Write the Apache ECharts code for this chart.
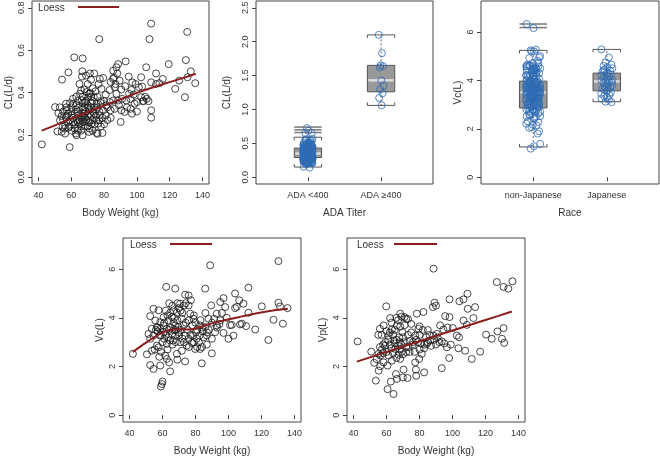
<!DOCTYPE html>
<html>
<head>
<meta charset="utf-8">
<script src="https://cdn.jsdelivr.net/npm/echarts@6/dist/echarts.min.js"></script>
<style>
  html, body { margin: 0; padding: 0; background: #fff; }
  #chart { width: 660px; height: 457px; }
</style>
</head>
<body>
<div id="chart"></div>
<script>
// ---- data ----
// CL (L/d) vs body weight (kg)
var clPoints = [
  [42,0.155],[59,0.142],[108.7,0.725],[107.7,0.652],[77,0.652],[130.7,0.686],[61.8,0.566],[66.9,0.561],
  [58.2,0.495],[54.3,0.461],[66.7,0.5],[71.3,0.49],[74,0.49],[66.5,0.475],[93.1,0.547],[88.5,0.534],
  [87.5,0.519],[85.5,0.503],[105.7,0.519],[111.7,0.49],[119.4,0.534],[115.8,0.464],[111.7,0.44],[108.7,0.448],
  [102.6,0.472],[99.2,0.44],[97.2,0.448],[95,0.475],[92.9,0.43],[95.2,0.394],[96.6,0.412],[93.5,0.362],
  [90.5,0.414],[89.5,0.456],[86.5,0.425],[87.5,0.394],[88.5,0.362],[90.5,0.316],[92.5,0.308],[90.1,0.261],
  [96.2,0.323],[98.6,0.347],[100.2,0.355],[102.6,0.378],[103.6,0.359],[101.2,0.425],[103.2,0.428],[107.1,0.359],
  [108.7,0.316],[108.7,0.281],[113.7,0.444],[123.4,0.417],[125.8,0.456],[129.3,0.378],[130.9,0.472],[129.9,0.553],
  [132.9,0.5],[135.6,0.444],
  [77.4,0.464],[79.4,0.469],[76.6,0.44],[74.7,0.406],[78.4,0.417],[81,0.39],[83.4,0.412],[85.5,0.464],
  [83.4,0.355],[81.4,0.339],[79.4,0.316],[77.4,0.292],[75.4,0.269],[76.4,0.253],[74.3,0.25],[75.4,0.209],
  [79,0.209],[81,0.292],[84,0.316],[86.5,0.323],[85.5,0.362],[87,0.44],[84,0.45],[86,0.47],[88,0.49],
  [82,0.33],[80,0.36],[78,0.35],[76,0.38],[73,0.42],[72,0.46],[69,0.48],[70,0.44],[68,0.415],[71,0.395],
  [73,0.36],[75,0.32],[77,0.31],[79,0.28],[80,0.25],[82,0.27],[84,0.28],[72,0.29],[73,0.27],[71,0.23],
  [73,0.22],[76,0.205],[78,0.36],[94,0.33],[96,0.37],[98,0.39],[91,0.37],[89,0.34],[97,0.3],[100,0.31],
  [104,0.36],[105,0.38],[106,0.37],
  [50.1,0.331],[52.1,0.303],[54.1,0.289],[53.1,0.269],[51.5,0.216],[54.1,0.214],[56.2,0.206],[54.7,0.238],
  [56.2,0.245],[56.8,0.281],[57.2,0.316],[56.8,0.347],[59.2,0.35],[61.2,0.347],[62.8,0.32],[60.2,0.292],
  [59.2,0.269],[58.2,0.234],[60.2,0.219],[62.8,0.206],[63.8,0.23],[65.3,0.253],[63.2,0.269],[66.3,0.277],
  [68.3,0.281],[66.9,0.3],[66.3,0.363],[65.3,0.394],[68.3,0.355],[70.3,0.328],[70.3,0.378],[71.7,0.397],
  [69.3,0.402],[73.7,0.378],[75.4,0.347],[71.3,0.3],[70.3,0.266],[72.3,0.253],[68.3,0.241],[66.9,0.198],
  [70.9,0.214],[63.2,0.198],
  [55,0.27],[57,0.29],[58,0.26],[60,0.31],[61,0.28],[62,0.25],[62,0.3],[63,0.34],[64,0.29],[64,0.31],
  [65,0.27],[65,0.33],[66,0.24],[67,0.26],[67,0.32],[67,0.35],[68,0.3],[68,0.33],[69,0.27],[69,0.31],
  [69,0.36],[70,0.29],[70,0.34],[71,0.32],[71,0.26],[72,0.33],[72,0.38],[74,0.33],[74,0.3],[61,0.37],
  [63,0.38],[64,0.36],[66,0.41],[65,0.44],[60,0.33],[58,0.3],[57,0.33],[55,0.31],[53,0.33],[62,0.23],
  [64,0.22],[66,0.22],[67,0.29],[59,0.24],[61,0.26],[56,0.23],[64,0.26],[68,0.26],[70,0.24],[67,0.38],
  [75,0.29],[76,0.33],[77,0.27],[78,0.24],[73,0.31],[72,0.35]
];
var clLoess = [[42,0.22],[50,0.245],[60,0.277],[70,0.308],[80,0.338],[90,0.368],[100,0.398],[110,0.425],[120,0.449],[128,0.468],[136,0.488]];

// Vc (L) vs body weight (kg)
var vcPoints = [
  [42,2.52],[50.5,2.5],[52.5,2.06],[54.5,1.9],[58.6,2.04],[59.6,1.28],[60,1.38],[59,1.18],[64.6,1.8],
  [62.6,2.31],[61.6,2.45],[64,2.17],[69,2.28],[73.7,2.21],[83.8,2.13],[89.9,2.54],[88.9,6.16],[130.3,6.33],
  [62.2,5.27],[67.7,5.2],[73.7,4.95],[75.8,4.92],[85.9,5.2],[104,5.0],[112.1,5.24],[97,4.81],[95,4.65],
  [98,4.44],[104,4.4],[106.5,4.72],[109.1,4.58],[120.2,4.47],[130.3,4.62],[131.3,4.47],[135.8,4.4],
  [127.3,3.92],[133,3.76],[124.2,3.09],[116.2,3.52],[112.1,4.21],[108.1,3.76],[107,3.73],[110.7,3.66],
  [102,3.71],[97,3.38],[100,3.14],[103,3.27],[94.5,3.74],[92.9,4.17],[91.3,3.96],[92.9,3.69],[89.5,4.51],
  [87.9,3.96],[86.9,3.27],[86.9,2.9],[82.8,2.72],[79.8,2.72],[80.2,3.41],[82.8,3.69],[78.8,3.96],[76.8,4.17],
  [75.8,4.51],[77.2,4.72],[70.7,4.58],[68.7,4.21],[66.7,4.31],[64.6,4.21],[63,4.1],[60.6,4.02],[57.6,4.31],
  [54.5,4.37],[52.5,4.07],[55.6,3.89],[53.5,3.55],[56.6,3.62],[51.5,3.34],[58.6,3.27],[56.6,2.86],[55.2,2.7],
  [57.6,2.79],[53.5,2.65],[61,3.14],[62.6,2.93],[64.6,3.07],[65.7,3.34],[67.7,3.69],[69.7,3.62],[71.7,3.96],
  [72.7,3.69],[73.7,3.27],[70.7,3.0],[68.7,2.52],[71.7,2.65],[74.7,2.86],[77.8,2.97],[75.8,3.14],[78.4,3.27],
  [80.8,3.14],[82.4,3.27],[84.4,3.44],[85.9,3.62],[89.9,3.14],[91.9,3.41],[58.6,3.82],[60.6,3.69],[62.6,3.55],
  [63.6,3.89],[65.7,4.03],[66.7,3.82],[69.7,3.41],[67.7,3.27],[66.3,3.07],[63.6,3.2],[60.6,3.41],[58.6,3.55],
  [57,3.44],[54.5,3.27],[52.5,3.14],
  [56,3.5],[57,3.6],[59,3.3],[61,3.8],[62,4.3],[64,4.6],[65,3.6],[66,4.5],[67,4.0],[68,3.5],[69,3.9],
  [70,4.4],[70,3.3],[71,3.5],[72,4.2],[73,3.0],[74,3.8],[74,4.6],[75,3.5],[76,3.9],[77,3.3],[78,3.7],
  [79,4.1],[80,3.8],[81,3.5],[82,3.0],[83,3.9],[84,3.6],[85,3.2],[86,4.2],[88,3.5],[90,3.8],[93,3.6],
  [95,3.9],[96,4.2],[99,4.0],[101,3.7],[105,4.45],[60,3.0],[59,2.6],[58,2.4],[63,2.7],[66,2.9],[67,3.5],
  [68,3.0],[72,3.15],[76,2.8],[79,3.0],[81,2.8],[84,2.8],[87,3.4],[71,4.3],[69,4.6],[73,4.5],[64,3.5],[62,3.3]
];
var vcLoess = [[42,2.6],[50,2.98],[58,3.33],[64,3.5],[70,3.53],[77,3.52],[83,3.62],[91,3.8],[99,3.92],[109,4.07],[119,4.21],[127,4.3],[136,4.37]];

// Vp (L) vs body weight (kg)
var vpPoints = [
  [42.4,3.03],[50.7,2.61],[52.5,2.15],[53.5,1.42],[55.2,1.83],[56.2,2.01],[60.6,1.07],[64.2,0.87],[62.6,1.38],
  [65.7,1.69],[66.3,1.49],[69.9,1.55],[72.7,1.53],[78,1.62],[77.8,1.87],[77.4,2.17],[82.8,1.76],[70.3,1.87],
  [68.3,2.31],[93.5,1.93],[98,2.35],[88.5,6.02],[126.9,5.47],[131,5.27],[133.9,5.2],[136.4,5.5],[109.1,4.99],
  [106.7,4.76],[104.2,4.68],[98.2,4.76],[89.1,4.62],[88.1,4.44],[113.7,4.44],[109.3,4.37],[59.8,4.47],[62.2,3.99],
  [68.3,4.17],[70.9,4.03],[71.9,3.96],[78.4,4.17],[82.4,4.24],[95.6,4.07],[98.2,4.03],[106.7,3.89],[108.7,3.71],
  [112.7,3.99],[120.4,3.31],[123.8,3.14],[127.3,3.44],[131,3.58],[130,3.14],[131.4,2.97],[116.8,2.61],[111.7,2.31],
  [107.7,2.65],[103.6,2.75],[100.2,3.58],[102.6,3.27],[96.6,2.79],[93.5,3.03],[94.5,3.52],[92.5,3.69],[90.5,3.34],
  [88.5,3.27],[86.5,3.07],[84.4,2.93],[82.8,2.75],[81.4,2.52],[79.8,2.31],[79.4,3.55],[77.4,3.27],[76,3.0],
  [73.3,2.79],[71.9,2.59],[69.3,2.61],[67.3,2.48],[65.3,2.72],[64.6,3.07],[67.7,3.2],[69.7,3.41],[68.3,3.64],
  [66.3,3.69],[63.2,3.52],[61.2,3.27],[59.2,3.0],[57.2,2.7],[55.2,2.52],[58.2,3.69],[56.2,2.45],[61.2,2.45],
  [63.2,2.24],[60.6,2.04],[58.2,2.17],
  [54,2.3],[56,2.8],[57,3.3],[58,2.55],[59,2.85],[60,2.6],[61,3.1],[62,2.9],[62,3.4],[63,2.75],[64,2.55],
  [64,3.3],[65,2.95],[65,3.5],[66,2.35],[66,3.1],[67,2.85],[67,3.9],[68,2.7],[68,3.0],[69,2.9],[70,3.2],
  [70,2.5],[71,3.0],[71,3.7],[72,2.8],[73,3.3],[74,2.6],[74,3.05],[75,3.4],[76,2.9],[77,2.6],[78,3.1],
  [79,3.0],[80,3.3],[80,2.7],[81,2.95],[82,3.5],[83,2.9],[84,3.2],[85,3.0],[86,3.3],[87,2.85],[89,3.1],
  [90,2.9],[91,3.2],[92,3.0],[95,2.95],[97,3.6],[99,2.9],[104,3.2],[75,3.75],[73,3.95],[69,4.05],[66,4.0],
  [63,3.8],[80,3.65],[85,3.5],[90,4.5],[58,2.9],[60,3.45],[55,3.3],[56,3.55]
];
var vpLoess = [[42,2.2],[60,2.6],[80,3.04],[100,3.48],[120,3.91],[136,4.26]];

// ADA titer groups: CL (L/d)
var adaCategories = ['ADA <400', 'ADA \u2265400'];
var adaLowCL = clPoints.map(function (p) { return p[1]; });
var adaHighCL = [2.10, 1.83, 1.65, 1.64, 1.62, 1.43, 1.35, 1.30, 1.24, 1.17, 1.06];
// [group, lower whisker, Q1, median, Q3, upper whisker]
var adaBoxes = [[1, 0.15, 0.29, 0.35, 0.43, 0.59], [2, 1.06, 1.26, 1.43, 1.65, 2.10]];
var adaOutliers = [[1, 0.74], [1, 0.70], [1, 0.66]];

// Race groups: Vc (L)
var raceCategories = ['non-Japanese', 'Japanese'];
var vcNonJapanese = vcPoints.map(function (p) { return p[1]; });
var vcJapanese = [5.28, 4.95, 4.75, 4.65, 4.6, 4.55, 4.5, 4.45, 4.4, 4.35, 4.3, 4.28, 4.25, 4.2, 4.15, 4.1,
  4.05, 4.0, 3.98, 3.95, 3.92, 3.9, 3.85, 3.8, 3.75, 3.7, 3.65, 3.6, 3.55, 3.5, 3.45, 3.4, 3.35, 3.3,
  3.25, 3.2, 3.12, 3.1, 4.42, 3.72, 4.02, 3.62];
var raceBoxes = [[1, 1.25, 2.86, 3.50, 3.97, 5.24], [2, 3.12, 3.57, 3.96, 4.30, 5.28]];
var raceOutliers = [[1, 6.33], [1, 6.18]];

var bwTicks = [40, 60, 80, 100, 120, 140];
var clTicks = [0, 0.2, 0.4, 0.6, 0.8];
var adaTicks = [0, 0.5, 1, 1.5, 2, 2.5];
var volTicks = [0, 2, 4, 6];

// ---- styling ----
var FONT = 'Liberation Sans, Arial, sans-serif';
var LOESS_COLOR = '#8b1d1d';
var BLUE = '#2f6cb4';
var BOX_HALF = 0.187;
// fixed jitter pattern for the strip points (display offsets only)
var JITTER = [-0.9, 0.35, -0.2, 0.8, -0.55, 0.1, 0.95, -0.35, 0.6, -0.75, 0.2, -0.05, 0.7, -0.95, 0.45, -0.45, 0.05];

function jittered(values, center, spread) {
  return values.map(function (v, i) { return [center + JITTER[i % JITTER.length] * spread, v]; });
}

function makeGrid(left, top, width, height) {
  return { left: left, top: top, width: width, height: height, show: true,
    borderColor: '#444', borderWidth: 1, backgroundColor: 'transparent', outerBoundsMode: 'none' };
}

function makeAxis(gi, min, max, ticks, fmt, name, nameGap, isY) {
  return {
    type: 'value', gridIndex: gi, min: min, max: max,
    name: name, nameLocation: 'middle', nameGap: nameGap,
    nameTextStyle: { fontFamily: FONT, fontSize: 10, color: '#333' },
    axisLine: { show: false },
    splitLine: { show: false },
    axisTick: { show: true, length: 4, lineStyle: { color: '#444' }, customValues: ticks },
    axisLabel: { customValues: ticks, formatter: fmt, rotate: isY ? 90 : 0, margin: isY ? 6 : 7,
      fontFamily: FONT, fontSize: 9, color: '#333', hideOverlap: false }
  };
}

function fmt1(v) { return v.toFixed(1); }
function fmt0(v) { return String(v); }

function renderBox(params, api) {
  var x = api.value(0);
  var lo = api.value(1), q1 = api.value(2), med = api.value(3), q3 = api.value(4), hi = api.value(5);
  var tl = api.coord([x - BOX_HALF, q3]);
  var br = api.coord([x + BOX_HALF, q1]);
  var cx = api.coord([x, med])[0];
  var yMed = api.coord([x, med])[1];
  var yLo = api.coord([x, lo])[1];
  var yHi = api.coord([x, hi])[1];
  var xl = tl[0], xr = br[0];
  var dash = { stroke: '#666', lineWidth: 1, lineDash: [2, 2] };
  var cap = { stroke: '#555', lineWidth: 1, fill: null };
  return {
    type: 'group',
    children: [
      { type: 'line', shape: { x1: cx, y1: tl[1], x2: cx, y2: yHi }, style: dash },
      { type: 'line', shape: { x1: cx, y1: br[1], x2: cx, y2: yLo }, style: dash },
      { type: 'polyline', shape: { points: [[xl, yHi + 3], [xl, yHi], [xr, yHi], [xr, yHi + 3]] }, style: cap },
      { type: 'polyline', shape: { points: [[xl, yLo - 3], [xl, yLo], [xr, yLo], [xr, yLo - 3]] }, style: cap },
      { type: 'rect', shape: { x: xl, y: tl[1], width: xr - xl, height: br[1] - tl[1] },
        style: { fill: '#999999', stroke: '#555', lineWidth: 1 } },
      { type: 'line', shape: { x1: xl + 1, y1: yMed, x2: xr - 1, y2: yMed }, style: { stroke: '#dcdcdc', lineWidth: 2.5 } }
    ]
  };
}

function renderOutlier(params, api) {
  var x = api.value(0), v = api.value(1);
  var a = api.coord([x - BOX_HALF, v]);
  var b = api.coord([x + BOX_HALF, v]);
  return { type: 'line', shape: { x1: a[0], y1: a[1], x2: b[0], y2: b[1] },
    style: { stroke: '#808080', lineWidth: 1.6 } };
}

function scatterSeries(gi, data, color) {
  return { type: 'scatter', xAxisIndex: gi, yAxisIndex: gi, data: data, symbol: 'circle', symbolSize: 7,
    itemStyle: { color: 'rgba(0,0,0,0)', borderColor: color, borderWidth: 1 }, silent: true, z: 2 };
}

function loessSeries(gi, data) {
  return { type: 'line', xAxisIndex: gi, yAxisIndex: gi, data: data, smooth: 0.3, showSymbol: false,
    lineStyle: { color: LOESS_COLOR, width: 2 }, silent: true, z: 3 };
}

function legendItems(textX, textY, lineX1, lineX2) {
  return [
    { type: 'text', x: textX, y: textY, style: { text: 'Loess', font: '10px ' + FONT, fill: '#333', verticalAlign: 'middle' } },
    { type: 'line', shape: { x1: lineX1, y1: textY - 1, x2: lineX2, y2: textY - 1 }, style: { stroke: LOESS_COLOR, lineWidth: 2 } }
  ];
}

var chart = echarts.init(document.getElementById('chart'));
var option = {
  animation: false,
  backgroundColor: '#fff',
  grid: [
    makeGrid(32, 1, 177, 183),
    makeGrid(256, 1, 177, 183),
    makeGrid(481, 1, 178, 183),
    makeGrid(123, 238, 178, 184),
    makeGrid(347, 238, 178, 184)
  ],
  xAxis: [
    makeAxis(0, 36, 144, bwTicks, fmt0, 'Body Weight (kg)', 24, false),
    makeAxis(1, 0.29, 2.71, [1, 2], function (v) { return adaCategories[v - 1]; }, 'ADA Titer', 24, false),
    makeAxis(2, 0.29, 2.71, [1, 2], function (v) { return raceCategories[v - 1]; }, 'Race', 24, false),
    makeAxis(3, 36, 144, bwTicks, fmt0, 'Body Weight (kg)', 24, false),
    makeAxis(4, 36, 144, bwTicks, fmt0, 'Body Weight (kg)', 24, false)
  ],
  yAxis: [
    makeAxis(0, -0.032, 0.832, clTicks, fmt1, 'CL(L/d)', 18, true),
    makeAxis(1, -0.1, 2.6, adaTicks, fmt1, 'CL(L/d)', 24, true),
    makeAxis(2, -0.28, 7.28, volTicks, fmt0, 'Vc(L)', 18, true),
    makeAxis(3, -0.28, 7.28, volTicks, fmt0, 'Vc(L)', 18, true),
    makeAxis(4, -0.28, 7.28, volTicks, fmt0, 'Vp(L)', 19, true)
  ],
  graphic: [].concat(
    legendItems(38, 8, 78, 119),
    legendItems(130, 245, 170, 212),
    legendItems(357, 245, 394, 437)
  ),
  series: [
    scatterSeries(0, clPoints, '#1a1a1a'),
    loessSeries(0, clLoess),
    { type: 'custom', xAxisIndex: 1, yAxisIndex: 1, data: adaBoxes, renderItem: renderBox, silent: true, z: 1 },
    { type: 'custom', xAxisIndex: 1, yAxisIndex: 1, data: adaOutliers, renderItem: renderOutlier, silent: true, z: 1 },
    scatterSeries(1, jittered(adaLowCL, 1, 0.065).concat(jittered(adaHighCL, 2, 0.035)), BLUE),
    { type: 'custom', xAxisIndex: 2, yAxisIndex: 2, data: raceBoxes, renderItem: renderBox, silent: true, z: 1 },
    { type: 'custom', xAxisIndex: 2, yAxisIndex: 2, data: raceOutliers, renderItem: renderOutlier, silent: true, z: 1 },
    scatterSeries(2, jittered(vcNonJapanese, 1, 0.1).concat(jittered(vcJapanese, 2, 0.08)), BLUE),
    scatterSeries(3, vcPoints, '#1a1a1a'),
    loessSeries(3, vcLoess),
    scatterSeries(4, vpPoints, '#1a1a1a'),
    loessSeries(4, vpLoess)
  ]
};
chart.setOption(option);
</script>
</body>
</html>
